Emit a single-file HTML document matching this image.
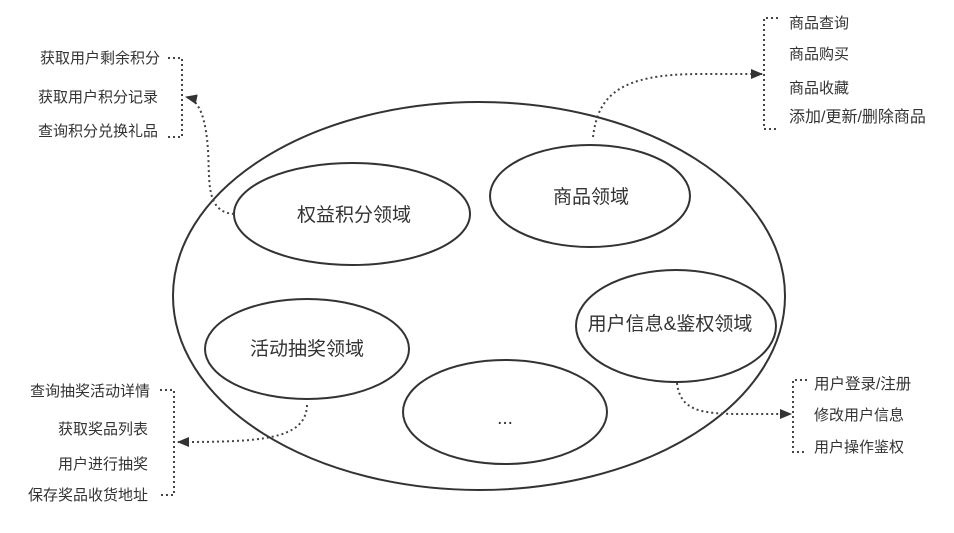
<!DOCTYPE html>
<html><head><meta charset="utf-8"><style>
html,body{margin:0;padding:0;background:#fff;}
svg text{font-family:"Liberation Sans","Noto Sans CJK SC",sans-serif;fill:#333;}
</style></head><body>
<svg width="954" height="528" viewBox="0 0 954 528" xmlns="http://www.w3.org/2000/svg">
<defs><marker id="a" markerWidth="12" markerHeight="10" refX="11" refY="5" orient="auto" markerUnits="userSpaceOnUse"><path d="M0,0 L12,5 L0,10 z" fill="#333"/></marker></defs>
<g fill="none" stroke="#333" stroke-width="2">
<ellipse cx="479" cy="296" rx="306" ry="194"/>
<ellipse cx="352" cy="214" rx="118" ry="51"/>
<ellipse cx="590" cy="196" rx="100" ry="51"/>
<ellipse cx="676" cy="326" rx="100" ry="56"/>
<ellipse cx="307" cy="349" rx="102" ry="50"/>
<ellipse cx="505" cy="412" rx="102" ry="52"/>
</g>
<g fill="none" stroke="#444" stroke-width="2" stroke-dasharray="2 3">
<path d="M168,58 H182 V137 H168"/>
<path d="M234,214 C205,212 210,180 208,150 C206,120 200,100 186,97" marker-end="url(#a)"/>
<path d="M778,18 H764 V129 H778"/>
<path d="M593,137 C598,95 620,74 700,74 L762,74" marker-end="url(#a)"/>
<path d="M160,390 H174 V495 H160"/>
<path d="M307,405 C306,440 260,442 178,442" marker-end="url(#a)"/>
<path d="M807,380 H793 V452 H807"/>
<path d="M677,383 C680,410 700,414 740,414 L791,414" marker-end="url(#a)"/>
</g>
<g font-size="15">
<text x="160" y="63" text-anchor="end">获取用户剩余积分</text>
<text x="158" y="102" text-anchor="end">获取用户积分记录</text>
<text x="158" y="136" text-anchor="end">查询积分兑换礼品</text>
<text x="789" y="28">商品查询</text>
<text x="789" y="59">商品购买</text>
<text x="789" y="93">商品收藏</text>
<text x="789" y="122" font-size="16">添加/更新/删除商品</text>
<text x="150" y="396" text-anchor="end">查询抽奖活动详情</text>
<text x="148" y="434" text-anchor="end">获取奖品列表</text>
<text x="148" y="469" text-anchor="end">用户进行抽奖</text>
<text x="148" y="500" text-anchor="end">保存奖品收货地址</text>
<text x="814" y="389" font-size="15.5">用户登录/注册</text>
<text x="814" y="420">修改用户信息</text>
<text x="814" y="452">用户操作鉴权</text>
</g>
<g font-size="19" text-anchor="middle">
<text x="354" y="221">权益积分领域</text>
<text x="591" y="203">商品领域</text>
<text x="670" y="330">用户信息&amp;鉴权领域</text>
<text x="307" y="355">活动抽奖领域</text>
<text x="505" y="424">...</text>
</g>
</svg>
</body></html>
